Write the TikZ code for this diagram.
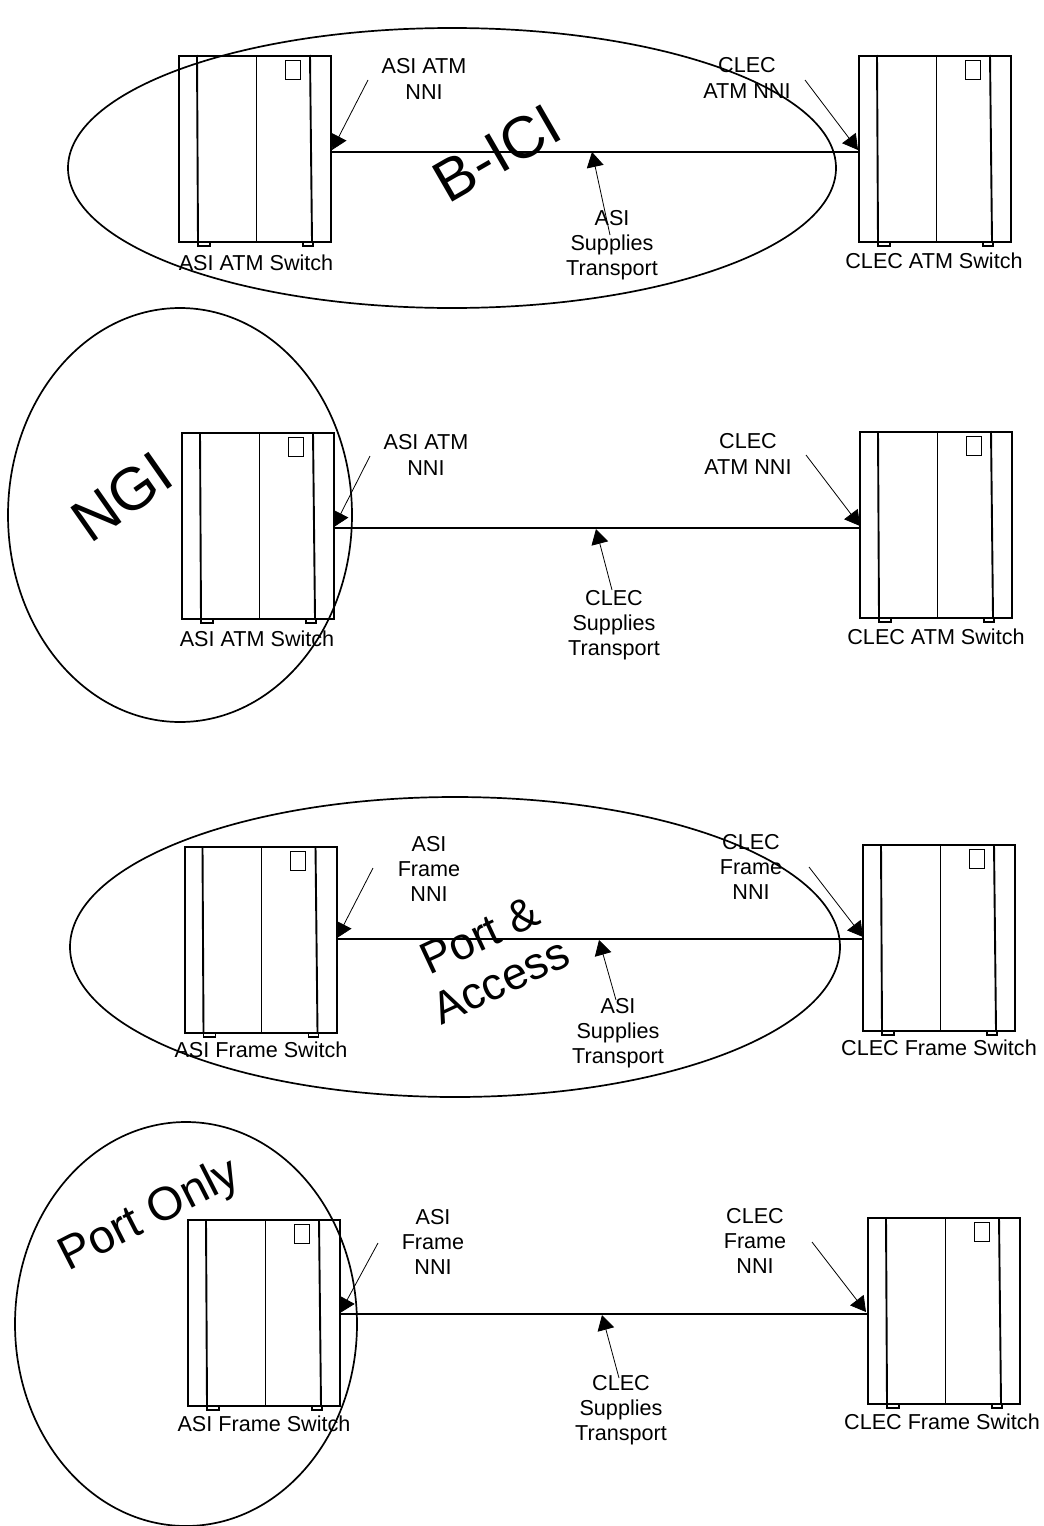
\documentclass[tikz,border=0pt]{standalone}
\usepackage{fontspec}
\setmainfont{Liberation Sans}
\usetikzlibrary{arrows.meta}
\tikzset{
  swbox/.style={draw=black,line width=2pt,fill=white,minimum width=#1,minimum height=186pt,inner sep=0pt,anchor=north west},
  swbox/.default=152pt,
  lbl/.style={font=\fontsize{21.6}{25.3}\selectfont,align=center,inner sep=0pt,text=black},
  big/.style={align=center,inner sep=0pt,text=black},
  ell/.style={draw=black,line width=1.7pt},
  link/.style={draw=black,line width=1.2pt},
  ptr/.style={draw=black,line width=0.8pt,-{Triangle[length=15pt,width=17pt]}}
}
% #1 name, #2 x, #3 y
\newcommand{\switchunit}[3]{%
  \begin{scope}[shift={(#2,#3)}]
    \draw[line width=1.6pt] (20,186) rectangle (32,191);
    \draw[line width=1.6pt] (125,186) rectangle (135,191);
    \node[swbox] (#1) at (0,0) {};
    \draw[line width=1.9pt] (19,0) -- (20,186);
    \draw[line width=0.9pt] (78,0) -- (78,186);
    \draw[line width=1.9pt] (132,0) -- (134,186);
    \draw[line width=1pt] (107,5) rectangle (122,24);
  \end{scope}}
\begin{document}
\begin{tikzpicture}[x=1pt,y=-1pt]
\useasboundingbox (0,0) rectangle (1044,1526);
\fill[white] (0,0) rectangle (1044,1526);
% switches
\switchunit{a1}{178}{55}
\switchunit{b1}{858}{55}
\switchunit{a2}{181}{432}
\switchunit{b2}{859}{431}
\switchunit{a3}{183.5}{846}
\switchunit{b3}{862}{844}
\switchunit{a4}{187}{1219}
\switchunit{b4}{867}{1217}
% labels
\node[lbl] (sa1) at (256,263) {ASI ATM Switch};
\node[lbl] (sb1) at (934,261) {CLEC ATM Switch};
\node[lbl] (sa2) at (257,639) {ASI ATM Switch};
\node[lbl] (sb2) at (936,637) {CLEC ATM Switch};
\node[lbl] (sa3) at (261,1050) {ASI Frame Switch};
\node[lbl] (sb3) at (939,1048) {CLEC Frame Switch};
\node[lbl] (sa4) at (264,1424) {ASI Frame Switch};
\node[lbl] (sb4) at (942,1422) {CLEC Frame Switch};
\node[lbl] (na1) at (424,79) {ASI ATM\\NNI};
\node[lbl] (nb1) at (747,78) {CLEC\\ATM NNI};
\node[lbl] (na2) at (426,455) {ASI ATM\\NNI};
\node[lbl] (nb2) at (748,454) {CLEC\\ATM NNI};
\node[lbl] (na3) at (429,869) {ASI\\Frame\\NNI};
\node[lbl] (nb3) at (751,867) {CLEC\\Frame\\NNI};
\node[lbl] (na4) at (433,1242) {ASI\\Frame\\NNI};
\node[lbl] (nb4) at (755,1241) {CLEC\\Frame\\NNI};
\node[lbl] (t1) at (612,245) {ASI\\Supplies\\Transport};
\node[lbl] (t2) at (614,625) {CLEC\\Supplies\\Transport};
\node[lbl] (t3) at (618,1033) {ASI\\Supplies\\Transport};
\node[lbl] (t4) at (621,1410) {CLEC\\Supplies\\Transport};
% ellipses
\node[ell,draw=none] (ring1) at (452,168) {};
\draw[ell] (ring1.center) ellipse [x radius=384,y radius=140];
\node[ell,draw=none] (ring2) at (180,515) {};
\draw[ell] (ring2.center) ellipse [x radius=172,y radius=207];
\node[ell,draw=none] (ring3) at (455,947) {};
\draw[ell] (ring3.center) ellipse [x radius=385,y radius=150];
\node[ell,draw=none] (ring4) at (186,1324) {};
\draw[ell] (ring4.center) ellipse [x radius=171,y radius=202];
% big labels
\node[big,rotate=30,font=\fontsize{59}{64}\selectfont] (e1) at (497,153) {B-ICI};
\node[big,rotate=35,font=\fontsize{60}{64}\selectfont] (e2) at (122,497) {NGI};
\node[big,rotate=25,font=\fontsize{45}{50}\selectfont] (e3) at (490,958) {Port \&\\Access};
\node[big,rotate=27,font=\fontsize{47}{52}\selectfont] (e4) at (150,1216) {Port Only};
% links
\foreach \i/\y in {1/152,2/528,3/939,4/1314}{
  \coordinate (la\i) at (a\i.east |- 0,\y);
  \coordinate (lb\i) at (b\i.west |- 0,\y);
  \draw[link] (la\i) -- (lb\i);
}
% pointers
\coordinate (pa1) at (368,80);   \coordinate (pb1) at (805,80);  \coordinate (pt1) at (610,235);
\coordinate (pa2) at (370,456);  \coordinate (pb2) at (806,455); \coordinate (pt2) at (612,590);
\coordinate (pa3) at (373,868);  \coordinate (pb3) at (809,867); \coordinate (pt3) at (616,1000);
\coordinate (pa4) at (378,1243); \coordinate (pb4) at (812,1242);\coordinate (pt4) at (619,1378);
\coordinate (ha1) at (332,150);  \coordinate (hb1) at (858,150); \coordinate (ht1) at (592,152);
\coordinate (ha2) at (334,527);  \coordinate (hb2) at (860,526); \coordinate (ht2) at (596,529);
\coordinate (ha3) at (337,938);  \coordinate (hb3) at (863,937); \coordinate (ht3) at (599,940);
\coordinate (ha4) at (340,1313); \coordinate (hb4) at (866,1312);\coordinate (ht4) at (602,1315);
\foreach \i in {1,2,3,4}{
  \draw[ptr] (pa\i) -- (ha\i);
  \draw[ptr] (pb\i) -- (hb\i);
  \draw[ptr] (pt\i) -- (ht\i);
}
\end{tikzpicture}
\end{document}
